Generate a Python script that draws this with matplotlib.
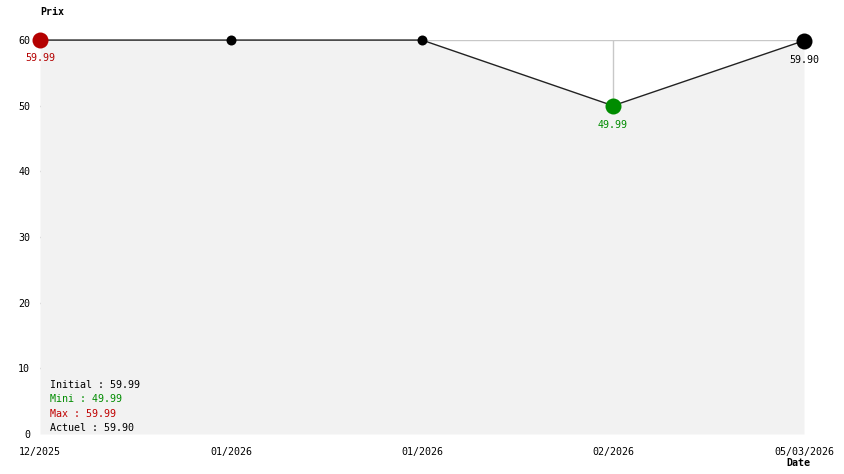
import numpy as np
import matplotlib
matplotlib.use("Agg")
from matplotlib import pyplot as plt

# price history
dates = ["12/2025", "01/2026", "01/2026", "02/2026", "05/03/2026"]
prices = [59.99, 59.99, 59.99, 49.99, 59.90]
point_colors = ["#b40000", "black", "black", "#008c00", "black"]
point_sizes = [16, 10, 10, 16, 16]
yticks = [0, 10, 20, 30, 40, 50, 60]

summary = [("Initial : 59.99", "black"),
           ("Mini : 49.99", "#008c00"),
           ("Max : 59.99", "#c00000"),
           ("Actuel : 59.90", "black")]

mono = "DejaVu Sans Mono"
fs = 7.2

fig = plt.figure(figsize=(8.44, 4.74), dpi=100)
ax = fig.add_axes([40/844, 40/474, 764/844, 394/474])
x = np.arange(len(dates))

# grid behind the fill (only shows above the price line)
for xi in x[1:-1]:
    ax.axvline(xi, color="#c8c8c8", lw=1, zorder=0)
for yt in yticks[1:]:
    ax.axhline(yt, color="#c8c8c8", lw=1, zorder=0)
ax.fill_between(x, 0, prices, color="#f2f2f2", lw=0, zorder=1)
ax.plot(x, prices, color="#222222", lw=1, zorder=2, clip_on=False)
for xi, p, c, s in zip(x, prices, point_colors, point_sizes):
    ax.plot(xi, p, "o", color=c, ms=s * 0.72, mew=0, zorder=3, clip_on=False)

# value labels under min/max/last
ax.annotate("59.99", (0, prices[0]), xytext=(0, -18), textcoords="offset pixels",
            ha="center", va="center", color="#b40000", family=mono, fontsize=fs)
ax.annotate("49.99", (3, prices[3]), xytext=(0, -19), textcoords="offset pixels",
            ha="center", va="center", color="#008c00", family=mono, fontsize=fs)
ax.annotate("59.90", (4, prices[4]), xytext=(0, -19), textcoords="offset pixels",
            ha="center", va="center", color="black", family=mono, fontsize=fs)

ax.set_xlim(0, len(dates) - 1)
ax.set_ylim(0, 60)
ax.set_xticks(x)
ax.set_xticklabels(dates, family=mono, fontsize=fs)
ax.set_yticks(yticks)
ax.set_yticklabels([str(t) for t in yticks], family=mono, fontsize=fs)
ax.tick_params(axis="x", length=0, pad=9)
ax.tick_params(axis="y", length=0, pad=7)
for sp in ax.spines.values():
    sp.set_visible(False)
ax.set_facecolor("none")

fig.text(40/844, 1 - 12/474, "Prix", family=mono, fontsize=fs, weight="bold",
         ha="left", va="center")
fig.text(798/844, 1 - 463/474, "Date", family=mono, fontsize=fs, weight="bold",
         ha="center", va="center")

for i, (txt, c) in enumerate(summary):
    fig.text(50/844, 1 - (385 + 14.3 * i)/474, txt, color=c, family=mono,
             fontsize=fs, ha="left", va="center")

fig.savefig("out.png", dpi=100)
